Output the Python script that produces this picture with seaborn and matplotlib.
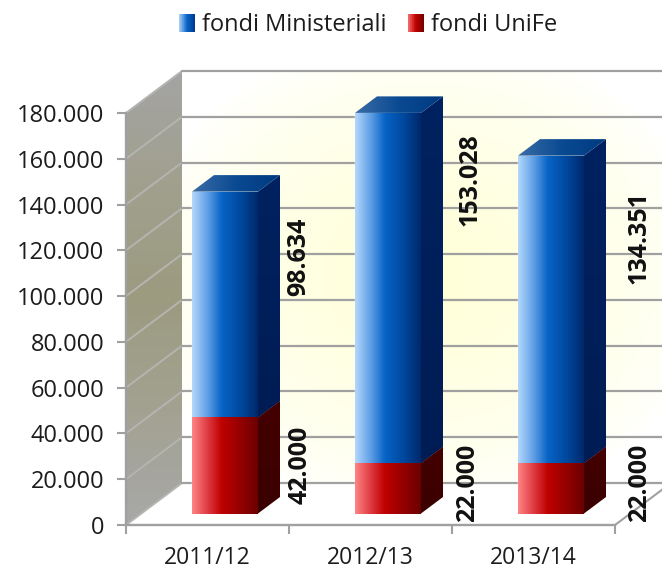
import numpy as np
import matplotlib
matplotlib.use("Agg")
import matplotlib.pyplot as plt
import seaborn as sns
from matplotlib.colors import LinearSegmentedColormap as LSC
from matplotlib.legend_handler import HandlerBase
from matplotlib.patches import Polygon, Rectangle, Patch
from matplotlib.transforms import Affine2D, IdentityTransform
from matplotlib.ticker import FuncFormatter

years = ["2011/12", "2012/13", "2013/14"]
fondi_ministeriali = [98634, 153028, 134351]
fondi_unife = [42000, 22000, 22000]
y_ticks = list(range(0, 180001, 20000))
legend_names = ["fondi Ministeriali", "fondi UniFe"]

W, H = 662, 572
sns.set_theme(style="white")
plt.rcParams["font.family"] = ["Open Sans", "DejaVu Sans"]
TXT = "#1c1c1c"
GRID = "#a0a0a0"

blue_front = LSC.from_list("bf", [(0, "#b4d8fb"), (.25, "#5b9be4"), (.45, "#0864c6"), (.72, "#004aa0"), (1, "#00286c")])
red_front = LSC.from_list("rf", [(0, "#ff8484"), (.22, "#e04048"), (.45, "#c00000"), (1, "#6c0000")])
blue_top = LSC.from_list("bt", ["#3a6ca6", "#0a4a92", "#003a80"])
red_top = LSC.from_list("rt", ["#8a1010", "#600000"])
blue_side = LSC.from_list("bs", ["#002260", "#001c54"])
red_side = LSC.from_list("rs", ["#440000", "#3a0000"])

fig = plt.figure(figsize=(W / 100, H / 100), dpi=100, facecolor="white")
ax = fig.add_axes([126 / W, (H - 525) / H, (615 - 126) / W, 412 / H])
ax.patch.set_alpha(0)

sns.barplot(x=years, y=fondi_unife, color="#c00000", width=66 / 163, ax=ax, zorder=5)
sns.barplot(x=years, y=fondi_ministeriali, bottom=fondi_unife, color="#0864c6",
            width=66 / 163, ax=ax, zorder=5)
ax.set_xlim(-.5, 2.5)
ax.set_ylim(0, 180000)
ax.autoscale(False)

WALL = (56, 42)      # depth of the chart box, px
BAR_SHIFT = (17.5, 11.5)
BAR_DEPTH = (22, 16.5)
to_px = ax.transData.transform


def grad(verts, cmap, z, vertical=False):
    verts = np.asarray(verts, float)
    x0, y0 = verts.min(0)
    x1, y1 = verts.max(0)
    g = np.linspace(0, 1, 256)[None, :]
    if vertical:
        g = g.T
    im = ax.imshow(g, cmap=cmap, extent=(x0, x1, y0, y1), origin="upper", aspect="auto",
                   transform=IdentityTransform(), interpolation="bilinear", zorder=z)
    poly = Polygon(verts, closed=True, transform=IdentityTransform(), fc="none", ec="none")
    ax.add_patch(poly)
    poly.set_clip_on(False)
    im.set_clip_path(poly)
    im.set_clip_box(fig.bbox)
    return im


# box: back wall, left wall, floor
a0 = to_px((-.5, 0))
a1 = to_px((-.5, 180000))
b0 = to_px((2.5, 0))
dw = np.array(WALL)
xx, yy = np.meshgrid(np.linspace(a0[0] + dw[0], W, 300), np.linspace(a0[1] + dw[1], a1[1] + dw[1], 300))
r = np.hypot((xx - 425) / 290, (yy - (H - 275)) / 240)
t = np.clip(1 - r, 0, 1) ** .7
glow = np.dstack([np.ones_like(t), np.ones_like(t), 1 - .16 * t])
back = ax.imshow(glow, extent=(a0[0] + dw[0], W, a0[1] + dw[1], a1[1] + dw[1]), origin="lower", aspect="auto",
                 transform=IdentityTransform(), zorder=0, interpolation="bilinear")
back.set_clip_box(fig.bbox)
wall_cmap = LSC.from_list("lw", ["#a4a4a4", "#a1a08e", "#9c9b80", "#a3a292", "#a8a8a8"])
grad([a0, a0 + dw, a1 + dw, a1], wall_cmap, 1, vertical=True)

for v in y_ticks:
    p = to_px((-.5, v))
    ax.plot([p[0], p[0] + dw[0]], [p[1], p[1] + dw[1]], color="#b4b4b0", lw=1.4,
            transform=IdentityTransform(), zorder=2, clip_on=False)
    ax.plot([p[0] + dw[0], W + 5], [p[1] + dw[1]] * 2, color=GRID, lw=1.6,
            transform=IdentityTransform(), zorder=2, clip_on=False)
ax.plot([b0[0], b0[0] + dw[0]], [b0[1], b0[1] + dw[1]], color=GRID, lw=1.5,
        transform=IdentityTransform(), zorder=2, clip_on=False)

# bars: front gradient plus the side and top faces of each seaborn bar
n = len(years)
shift = Affine2D().translate(*BAR_SHIFT)
for i, p in enumerate(ax.patches[:2 * n]):
    is_red = i < n
    p.set_transform(ax.transData + shift)
    p.set_clip_on(False)
    lx, by = to_px((p.get_x(), p.get_y())) + BAR_SHIFT
    rx, ty = to_px((p.get_x() + p.get_width(), p.get_y() + p.get_height())) + BAR_SHIFT
    d = np.array(BAR_DEPTH)
    grad([(lx, by), (rx, by), (rx, ty), (lx, ty)], red_front if is_red else blue_front, 6)
    grad([(rx, by), (rx + d[0], by + d[1]), (rx + d[0], ty + d[1]), (rx, ty)],
         red_side if is_red else blue_side, 6, vertical=True)
    grad([(lx, ty), (rx, ty), (rx + d[0], ty + d[1]), (lx + d[0], ty + d[1])],
         red_top if is_red else blue_top, 6)

# data labels, rotated as in the original
lab_dx_blue = [74, 82, 88]
lab_dx_red = [75, 80, 89]
lab_dy_blue = [-65, -67, -82]
lab_dy_red = [49, 31, 31]
fmt = lambda v: f"{v:,.0f}".replace(",", ".")
for i in range(n):
    bx = to_px((i, 0))[0] + BAR_SHIFT[0]
    y_blue = to_px((i, fondi_unife[i] + fondi_ministeriali[i]))[1] + BAR_SHIFT[1] + lab_dy_blue[i]
    y_red = to_px((i, 0))[1] + BAR_SHIFT[1] + lab_dy_red[i]
    for xp, yp, val in ((bx + lab_dx_blue[i], y_blue, fondi_ministeriali[i]),
                        (bx + lab_dx_red[i], y_red, fondi_unife[i])):
        ax.text(xp, yp, fmt(val), rotation=90, transform=IdentityTransform(), ha="center", va="center",
                fontsize=18, fontweight="bold", color="#111111", zorder=8, clip_on=False)

# axes
for s in ("top", "right"):
    ax.spines[s].set_visible(False)
for s in ("left", "bottom"):
    ax.spines[s].set_color(GRID)
    ax.spines[s].set_linewidth(1.7)
    ax.spines[s].set_zorder(3)
ax.set_yticks(y_ticks)
ax.yaxis.set_major_formatter(FuncFormatter(lambda v, _: fmt(v)))
ax.set_xticks(range(n), years)
ax.set_xticks(np.arange(-.5, n), minor=True)
ax.tick_params(axis="y", length=6.5, width=1.5, color=GRID, pad=9, labelsize=17, labelcolor=TXT, left=True)
ax.tick_params(axis="x", which="major", length=0, pad=15, labelsize=16.5, labelcolor=TXT)
ax.tick_params(axis="x", which="minor", length=6.5, width=1.5, color=GRID, bottom=True)
ax.set_xlabel("")
ax.set_ylabel("")


# legend with gradient swatches
class GradHandler(HandlerBase):
    def __init__(self, cmap):
        super().__init__()
        self.cmap = cmap

    def create_artists(self, legend, orig, xd, yd, w, h, fs, trans):
        out = []
        N = 24
        for k in range(N):
            out.append(Rectangle((-xd + w * k / N, -yd), w / N + .3, h, fc=self.cmap(k / (N - 1)),
                                 ec="none", transform=trans))
        return out


hs = [Patch(label=legend_names[0]), Patch(label=legend_names[1])]
leg = fig.legend(handles=hs, labels=legend_names, loc="center", bbox_to_anchor=(368 / W, 1 - 25 / H),
                 ncol=2, frameon=False, fontsize=17, labelcolor=TXT,
                 handler_map={hs[0]: GradHandler(LSC.from_list("a", ["#a4cef8", "#0864c6", "#003a90"])),
                              hs[1]: GradHandler(LSC.from_list("b", ["#f47070", "#c00000", "#7a0000"]))},
                 handlelength=.68, handleheight=.8, handletextpad=.3, columnspacing=.9)

fig.savefig("out.png", dpi=100)
